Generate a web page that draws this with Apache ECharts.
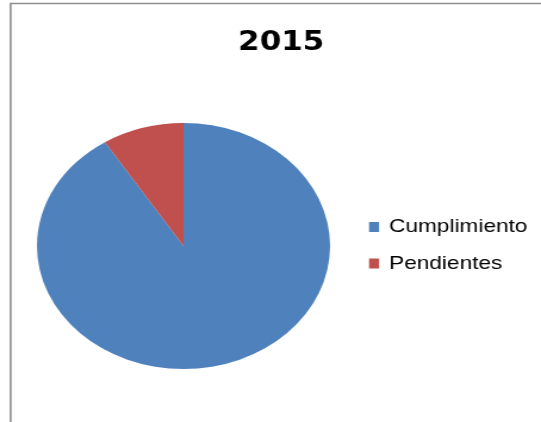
<!DOCTYPE html>
<html>
<head>
<meta charset="utf-8">
<script src="https://cdn.jsdelivr.net/npm/echarts@6/dist/echarts.min.js"></script>
<style>
  html, body { margin: 0; padding: 0; background: #fff; overflow: hidden; }
  /* el original está estirado en horizontal (tarta elíptica), así que se estira todo */
  #main { width: 454px; height: 422px; transform: scaleX(1.1916); transform-origin: 0 0; }
</style>
</head>
<body>
<div id="main"></div>
<script>
var titulo = '2015';
var categorias = ['Cumplimiento', 'Pendientes'];
var valores = [91, 9];
var colores = ['#4F81BD', '#C0504D'];

var chart = echarts.init(document.getElementById('main'), null, { renderer: 'canvas' });

var datos = [];
for (var i = 0; i < categorias.length; i++) {
    datos.push({ name: categorias[i], value: valores[i], itemStyle: { color: colores[i] } });
}

var option = {
    animation: false,
    backgroundColor: '#fff',
    title: {
        text: titulo,
        left: 236,
        top: 30,
        padding: 0,
        textAlign: 'center',
        textStyle: {
            fontFamily: 'DejaVu Sans',
            fontWeight: 'bold',
            fontSize: 26,
            color: '#000'
        }
    },
    legend: {
        orient: 'vertical',
        left: 309.7,
        top: 217.5,
        padding: 0,
        itemWidth: 8.4,
        itemHeight: 10,
        itemGap: 17.5,
        icon: 'rect',
        data: categorias,
        textStyle: {
            fontFamily: 'Liberation Sans',
            fontSize: 19,
            lineHeight: 19,
            color: '#000',
            padding: [0, 0, 0, 3.4]
        }
    },
    graphic: [
        {
            type: 'polyline',
            shape: { points: [[500, 3.5], [8.9, 3.5], [8.9, 440]] },
            style: { stroke: '#8e8e8e', lineWidth: 1.6, fill: null },
            silent: true
        }
    ],
    series: [
        {
            type: 'pie',
            center: [154, 246],
            radius: 123,
            startAngle: 90,
            clockwise: true,
            label: { show: false },
            labelLine: { show: false },
            emphasis: { disabled: true },
            itemStyle: { borderWidth: 0 },
            data: datos
        }
    ]
};

chart.setOption(option);
</script>
</body>
</html>
